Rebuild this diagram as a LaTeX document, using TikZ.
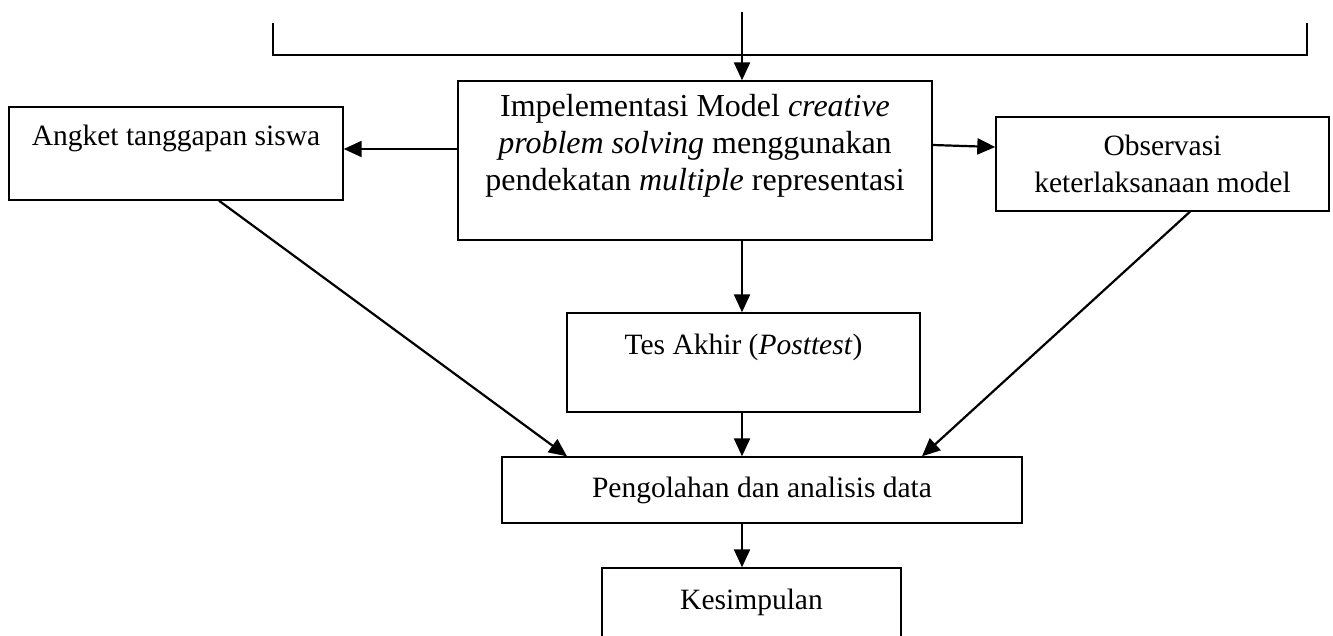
\documentclass[tikz,border=0pt]{standalone}
\usepackage{fontspec}
\setmainfont{Liberation Serif}
\usetikzlibrary{arrows.meta}

\begin{document}
\begin{tikzpicture}[x=1pt,y=-1pt,
  box/.style={draw,line width=1.4pt,align=center,inner sep=0pt,
    font=\fontsize{29.5}{37}\selectfont},
  arr/.style={line width=2.2pt,-{Triangle[length=18pt,width=16pt]}}]
\useasboundingbox (0,0) rectangle (1333,635);
\clip (0,0) rectangle (1333,635);
% boxes
\node[box,minimum width=474pt,minimum height=159pt,font=\fontsize{32}{37}\selectfont] (impl) at (695,160.5)
  {Impelementasi Model \textit{creative}\\ \textit{problem solving} menggunakan\\ pendekatan \textit{multiple} representasi\\ ~};
\node[box,minimum width=334pt,minimum height=93pt] (angket) at (176,153.5)
  {Angket tanggapan siswa\\ ~};
\node[box,minimum width=333pt,minimum height=94pt] (obs) at (1162.5,164)
  {Observasi\\ keterlaksanaan model};
\node[box,minimum width=353pt,minimum height=99pt] (post) at (743.5,362.5)
  {Tes Akhir (\textit{Posttest})\\ ~};
\node[box,minimum width=520pt,minimum height=66pt] (olah) at (762,490)
  {Pengolahan dan analisis data};
\node[box,minimum width=299pt,minimum height=100pt] (simpul) at (751.5,618)
  {Kesimpulan\\ ~};
% top bracket
\coordinate (src) at (742,12);
\draw[line width=1.4pt] (273,23) -- (273,55) -- (1307,55) -- (1307,23);
% arrows
\draw[arr] (src) -- (src |- impl.north);
\draw[arr] ([yshift=11.5pt]impl.west) -- ([yshift=4.5pt]angket.east);
\draw[arr] ([yshift=15.5pt]impl.east) -- ([yshift=17pt]obs.west);
\draw[arr] (src |- impl.south) -- (src |- post.north);
\draw[arr] (src |- post.south) -- (src |- olah.north);
\draw[arr] (src |- olah.south) -- (src |- simpul.north);
\draw[arr] ([xshift=43pt]angket.south) -- ([xshift=-195pt]olah.north);
\draw[arr] ([xshift=27.5pt]obs.south) -- ([xshift=160pt]olah.north);
\end{tikzpicture}
\end{document}
